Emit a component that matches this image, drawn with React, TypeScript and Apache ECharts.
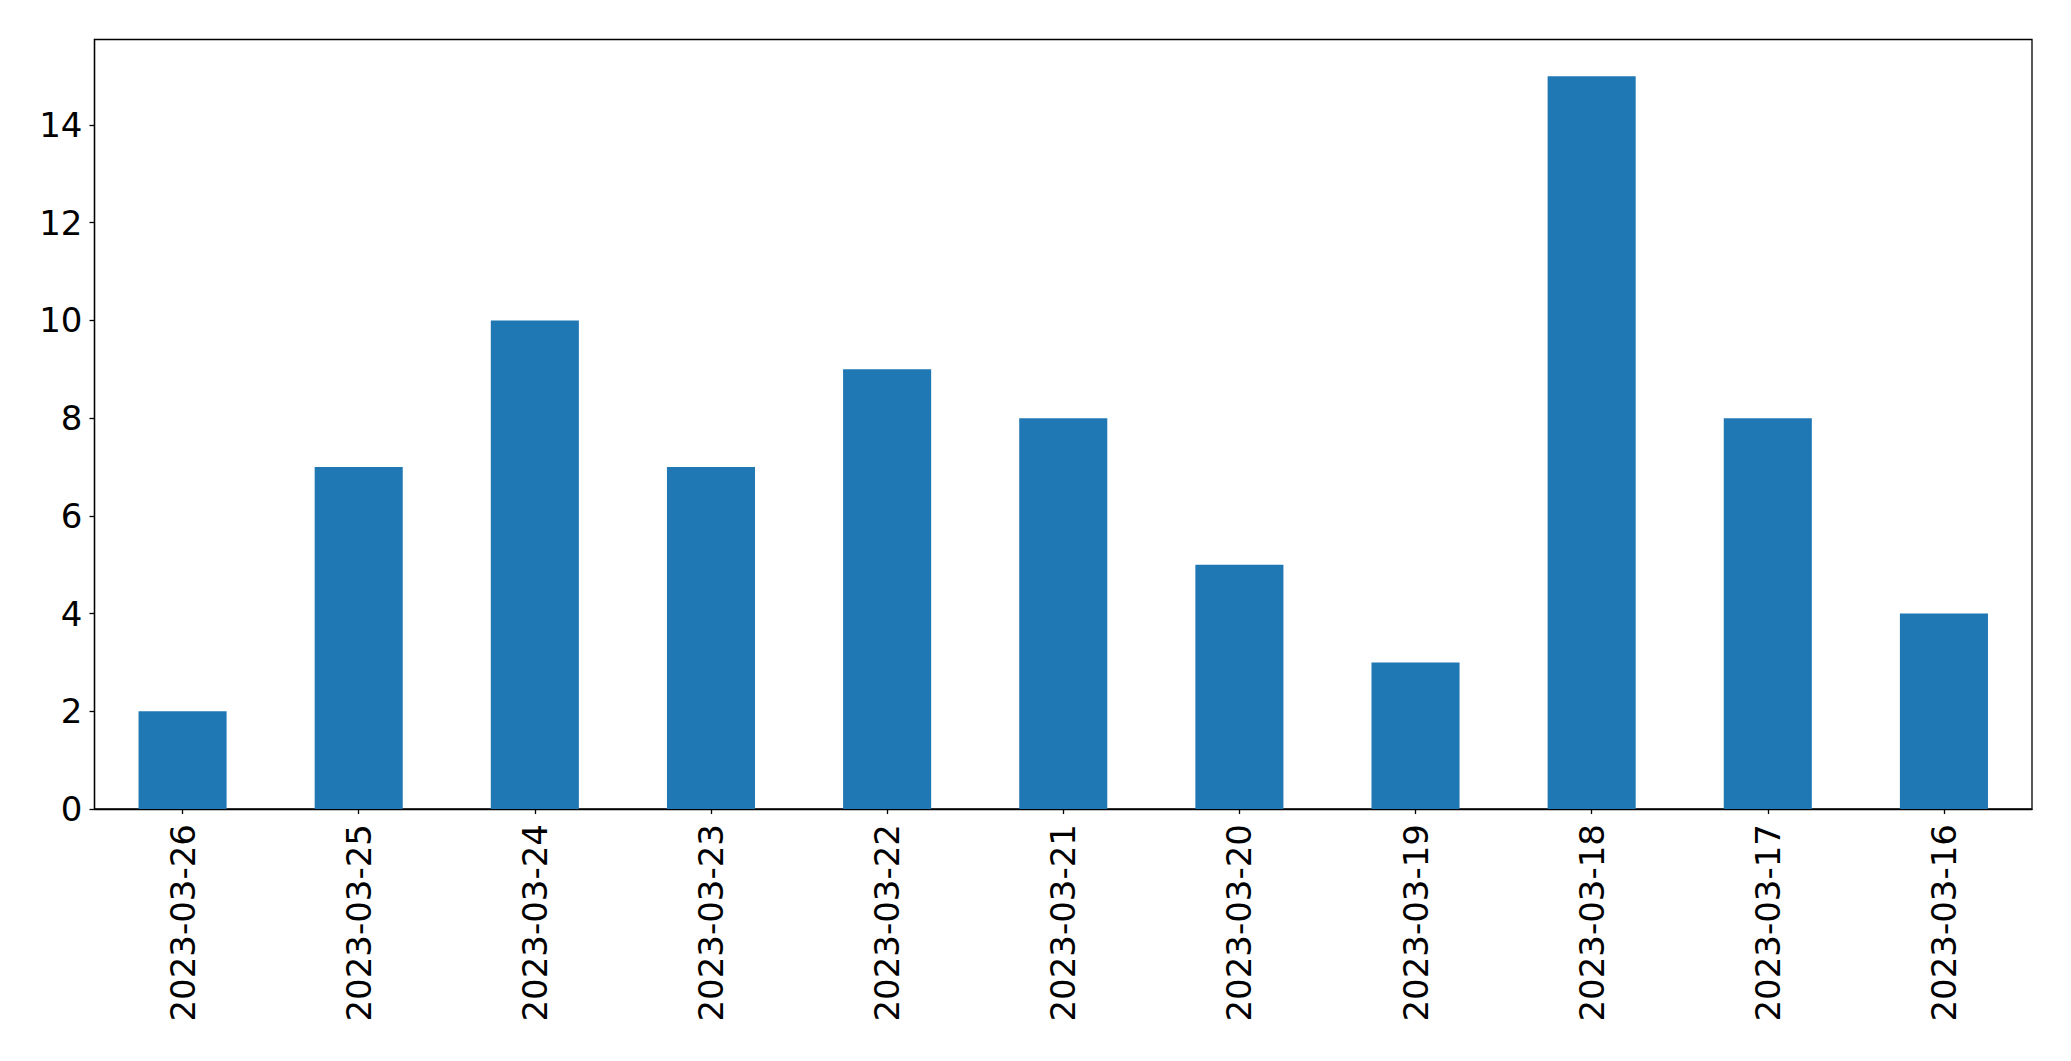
import React, { useEffect, useRef } from "react";
import * as echarts from "echarts";

const categories = [
  "2023-03-26", "2023-03-25", "2023-03-24", "2023-03-23", "2023-03-22", "2023-03-21",
  "2023-03-20", "2023-03-19", "2023-03-18", "2023-03-17", "2023-03-16",
];
const values = [2, 7, 10, 7, 9, 8, 5, 3, 15, 8, 4];
const yTicks = [0, 2, 4, 6, 8, 10, 12, 14];

export default function App() {
  const ref = useRef<HTMLDivElement>(null);
  useEffect(() => {
    if (!ref.current) return;
    const chart = echarts.init(ref.current, null, { renderer: "svg" });
    const font = "DejaVu Sans";
    chart.setOption({
      animation: false,
      backgroundColor: "#ffffff",
      grid: {
        left: 94.5,
        right: 39,
        top: 39.5,
        bottom: 252,
        show: true,
        borderColor: "#000000",
        borderWidth: 1.3,
        backgroundColor: "transparent",
      },
      xAxis: {
        type: "category",
        data: categories,
        boundaryGap: true,
        axisLine: { show: true, lineStyle: { color: "#000000", width: 1.3 } },
        axisTick: { show: true, alignWithLabel: true, length: 5, lineStyle: { color: "#000000", width: 1.3 } },
        axisLabel: {
          rotate: 90,
          interval: 0,
          margin: 15,
          color: "#000000",
          fontSize: 34,
          fontFamily: font,
        },
        splitLine: { show: false },
      },
      yAxis: {
        type: "value",
        min: 0,
        max: 15.75,
        interval: 2,
        axisLine: { show: true, lineStyle: { color: "#000000", width: 1.3 } },
        axisTick: { show: true, length: 5, customValues: yTicks, lineStyle: { color: "#000000", width: 1.3 } },
        axisLabel: {
          customValues: yTicks,
          margin: 12,
          color: "#000000",
          fontSize: 34,
          fontFamily: font,
        },
        splitLine: { show: false },
      },
      series: [
        {
          type: "bar",
          data: values,
          barWidth: "50%",
          itemStyle: { color: "#1f77b4" },
        },
      ],
    });
    return () => chart.dispose();
  }, []);
  return (
    <div
      ref={ref}
      style={{ position: "fixed", left: 0, top: 0, width: 2071, height: 1061, background: "#fff" }}
    />
  );
}
